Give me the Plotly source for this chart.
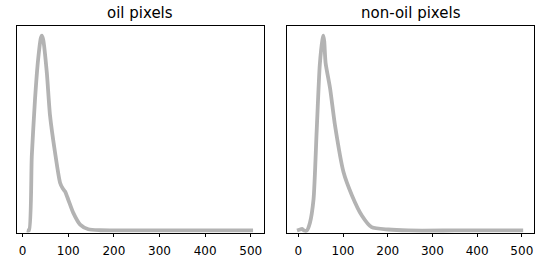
import plotly.graph_objects as go
from plotly.subplots import make_subplots

# oil pixels: intensity vs normalised density
oil_x = [9, 14, 20, 27, 34, 40, 42, 45, 53, 60, 71, 82, 88, 93, 100, 111, 126, 144, 170, 250, 350, 450, 505]
oil_y = [0.0, 0.0, 0.38, 0.67, 0.88, 0.99, 1.0, 0.98, 0.81, 0.59, 0.40, 0.245, 0.215, 0.20, 0.158, 0.09, 0.03, 0.006, 0.001, 0.0, 0.0, 0.0, 0.0]

# non-oil pixels
non_oil_x = [-3, 4, 8, 13, 19, 26, 34, 41, 48, 54, 56, 58, 61, 71, 82, 101, 120, 142, 164, 201, 246, 350, 450, 503]
non_oil_y = [0.0, 0.005, 0.008, 0.0, 0.0, 0.04, 0.16, 0.51, 0.85, 0.98, 1.0, 0.97, 0.86, 0.73, 0.54, 0.30, 0.18, 0.077, 0.017, 0.005, 0.0, 0.0, 0.0, 0.0]

titles = ["oil pixels", "non-oil pixels"]
tick_vals = [0, 100, 200, 300, 400, 500]

dom_left = [0.0304, 0.48]
dom_right = [0.5213, 0.9715]
dom_y = [0.1107, 0.9008]

fig = make_subplots(rows=1, cols=2, subplot_titles=titles)

for i, (xs, ys) in enumerate([(oil_x, oil_y), (non_oil_x, non_oil_y)]):
    fig.add_trace(
        go.Scatter(
            x=xs,
            y=ys,
            mode="lines",
            line=dict(color="#b3b3b3", width=3.8, shape="spline", smoothing=0.6),
            showlegend=False,
        ),
        row=1,
        col=i + 1,
    )

axis_style = dict(
    showgrid=False,
    zeroline=False,
    showline=True,
    linecolor="black",
    linewidth=1,
    mirror=True,
)

fig.update_xaxes(
    tickvals=tick_vals,
    ticks="outside",
    ticklen=3.5,
    tickcolor="black",
    ticklabelstandoff=3,
    tickfont=dict(family="DejaVu Sans", size=12, color="black"),
    **axis_style,
)
fig.update_yaxes(showticklabels=False, range=[-0.013, 1.05], **axis_style)

fig.update_layout(
    xaxis=dict(domain=dom_left, range=[-13, 529]),
    xaxis2=dict(domain=dom_right, range=[-26, 528]),
    yaxis=dict(domain=dom_y),
    yaxis2=dict(domain=dom_y),
    width=550,
    height=262,
    margin=dict(l=0, r=0, t=0, b=0),
    plot_bgcolor="white",
    paper_bgcolor="white",
    font=dict(family="DejaVu Sans", color="black"),
)

# titles centred above each axes box
for ann, dom in zip(fig.layout.annotations, [dom_left, dom_right]):
    ann.update(
        x=(dom[0] + dom[1]) / 2,
        y=0.9485,
        yanchor="middle",
        font=dict(family="DejaVu Sans", size=15, color="black"),
    )

# drop the default body margin so the figure sits at the window's corner
fig.write_html(
    "out.html",
    config={"displayModeBar": False},
    post_script="document.body.style.margin='0';",
)
